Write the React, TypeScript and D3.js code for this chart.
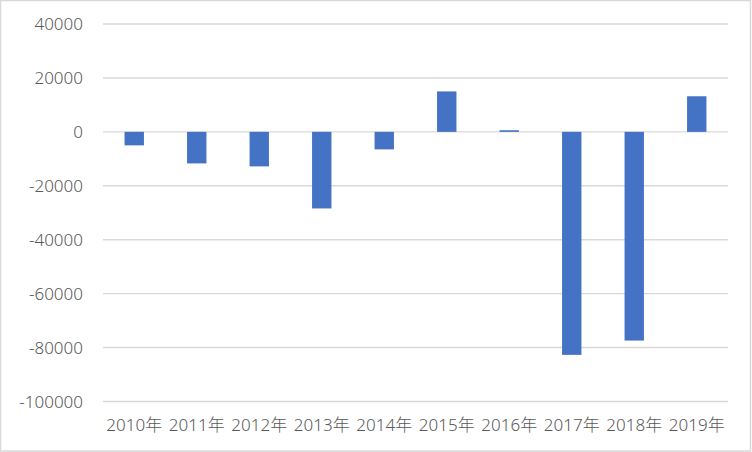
import { useRef, useEffect } from "react";
import * as d3 from "d3";

// values
const years = ["2010年", "2011年", "2012年", "2013年", "2014年", "2015年", "2016年", "2017年", "2018年", "2019年"];
const values = [-5000, -11700, -12800, -28400, -6500, 15000, 600, -82700, -77400, 13200];
const yTicks = [40000, 20000, 0, -20000, -40000, -60000, -80000, -100000];

const W = 752;
const H = 452;
const margin = { top: 24, right: 24, bottom: 50.5, left: 103 };
const font = "'Noto Sans', 'Noto Sans CJK SC', sans-serif";

function draw(el: SVGSVGElement | null) {
  if (!el) return;
  const svg = d3.select(el);
  svg.selectAll("*").remove();

  const x = d3
    .scaleBand<string>()
    .domain(years)
    .range([margin.left, W - margin.right])
    .paddingInner(0.69)
    .paddingOuter(0.345);

  const y = d3
    .scaleLinear()
    .domain([-100000, 40000])
    .range([H - margin.bottom, margin.top]);

  // chart border
  svg
    .append("rect")
    .attr("x", 0.5)
    .attr("y", 0.5)
    .attr("width", W - 2)
    .attr("height", H - 1.5)
    .attr("fill", "#fff")
    .attr("stroke", "#d9d9d9")
    .attr("stroke-width", 1.5);

  // gridlines
  svg
    .append("g")
    .selectAll("line")
    .data(yTicks)
    .join("line")
    .attr("x1", margin.left)
    .attr("x2", W - margin.right)
    .attr("y1", (d) => y(d))
    .attr("y2", (d) => y(d))
    .attr("stroke", "#d9d9d9")
    .attr("stroke-width", 1.4);

  // y labels
  svg
    .append("g")
    .selectAll("text")
    .data(yTicks)
    .join("text")
    .attr("x", 83)
    .attr("y", (d) => y(d))
    .attr("dy", "0.36em")
    .attr("text-anchor", "end")
    .attr("fill", "#595959")
    .attr("font-size", 17)
    .attr("font-weight", 300)
    .attr("font-family", font)
    .text((d) => String(d));

  // bars
  svg
    .append("g")
    .selectAll("rect")
    .data(values)
    .join("rect")
    .attr("x", (_, i) => x(years[i])!)
    .attr("width", x.bandwidth())
    .attr("y", (d) => y(Math.max(0, d)))
    .attr("height", (d) => Math.abs(y(d) - y(0)))
    .attr("fill", "#4472c4");

  // x labels
  svg
    .append("g")
    .selectAll("text")
    .data(years)
    .join("text")
    .attr("x", (d) => x(d)! + x.bandwidth() / 2)
    .attr("y", 431)
    .attr("text-anchor", "middle")
    .attr("fill", "#595959")
    .attr("font-size", 17)
    .attr("font-weight", 300)
    .attr("font-family", font)
    .text((d) => d);
}

export default function App() {
  const ref = useRef<SVGSVGElement>(null);
  useEffect(() => {
    draw(ref.current);
  }, []);
  return (
    <svg
      ref={ref}
      width={W}
      height={H}
      style={{ position: "absolute", left: 0, top: 0, display: "block" }}
    />
  );
}
